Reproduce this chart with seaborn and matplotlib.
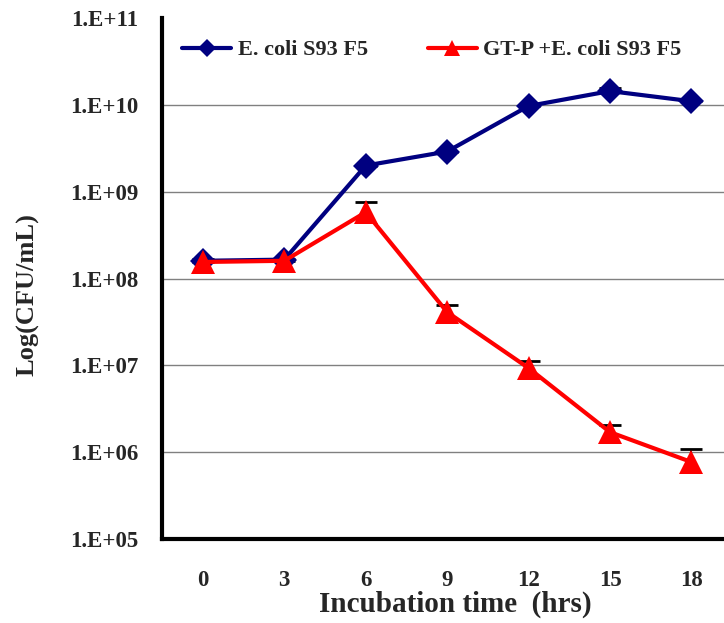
import matplotlib
matplotlib.use("Agg")
import matplotlib.pyplot as plt
import seaborn as sns
import numpy as np
import pandas as pd
from matplotlib.lines import Line2D

times = ["0", "3", "6", "9", "12", "15", "18"]
ecoli = [1.6e8, 1.65e8, 2.0e9, 2.9e9, 9.7e9, 1.44e10, 1.1e10]
ecoli_upper = [1.7e8, 1.7e8, 2.0e9, 2.9e9, 9.7e9, 1.55e10, 1.1e10]
gtp = [1.55e8, 1.6e8, 5.8e8, 4.1e7, 9.3e6, 1.7e6, 7.7e5]
gtp_upper = [1.55e8, 1.6e8, 7.6e8, 4.9e7, 1.12e7, 2.04e6, 1.1e6]
series_names = ["E. coli S93 F5", "GT-P +E. coli S93 F5"]
ytick_vals = [1e5, 1e6, 1e7, 1e8, 1e9, 1e10, 1e11]
ytick_labels = ["1.E+05", "1.E+06", "1.E+07", "1.E+08", "1.E+09", "1.E+10", "1.E+11"]

sns.set_style("white")
plt.rcParams['font.family'] = ['Liberation Serif', 'DejaVu Serif']
plt.rcParams['font.weight'] = 'bold'

df = pd.DataFrame({
    "pos": list(range(len(times))) * 2,
    "value": ecoli + gtp,
    "series": [series_names[0]] * len(times) + [series_names[1]] * len(times),
})

fig = plt.figure(figsize=(7.24, 6.23), dpi=100)
ax = fig.add_axes([0.224, 0.1348, 0.776, 0.8363])

for y in ytick_vals[1:-1]:
    ax.axhline(y, color="#808080", lw=1.0, zorder=0)

colors = {series_names[0]: "#000080", series_names[1]: "#ff0000"}
sns.lineplot(data=df, x="pos", y="value", hue="series", style="series",
             markers={series_names[0]: "D", series_names[1]: "^"},
             dashes=False, palette=colors, lw=3, ax=ax, legend=False,
             markeredgewidth=0, zorder=3)
for line, ms in zip(ax.lines[-2:], [13, 17]):
    line.set_markersize(ms)

pos = np.arange(len(times))
for vals, up in [(ecoli, ecoli_upper), (gtp, gtp_upper)]:
    vals = np.array(vals); up = np.array(up)
    err = np.vstack([np.zeros_like(vals), up - vals])
    eb = ax.errorbar(pos, vals, yerr=err, fmt="none", ecolor="black", elinewidth=1.2,
                     capsize=8, capthick=2, zorder=2)
    caps = eb[1]
    if len(caps) >= 1:
        caps[0].set_visible(False)

ax.set_yscale("log")
ax.set_ylim(1e5, 1e11)
ax.set_yticks(ytick_vals)
ax.set_yticklabels(ytick_labels)
ax.yaxis.set_minor_locator(matplotlib.ticker.NullLocator())
ax.set_xlim(-0.5, 6.4)
ax.set_xticks(pos)
ax.set_xticklabels(times)
ax.set_xticks(np.arange(len(times) - 1) + 0.5, minor=True)
ax.tick_params(axis="x", which="major", length=0, pad=22, labelsize=16.5)
ax.tick_params(axis="x", which="minor", direction="in", length=7, width=2.5, color="black")
ax.tick_params(axis="y", which="major", direction="in", length=7, width=2.5, labelsize=16.5, pad=17, color="black")
for lab in ax.get_xticklabels() + ax.get_yticklabels():
    lab.set_fontweight("bold")

for s in ["top", "right"]:
    ax.spines[s].set_visible(False)
for s in ["left", "bottom"]:
    ax.spines[s].set_linewidth(3)
    ax.spines[s].set_color("black")

ax.set_xlabel("Incubation time  (hrs)", fontsize=21, fontweight="bold")
ax.set_ylabel("Log(CFU/mL)", fontsize=19, fontweight="bold")
ax.xaxis.set_label_coords((455 - 162) / 562, -(604 - 539) / 521, transform=ax.transAxes)
ax.yaxis.set_label_coords(-(162 - 28) / 562, (539 - 295) / 521, transform=ax.transAxes)
ax.xaxis.label.set_verticalalignment("center")
ax.yaxis.label.set_verticalalignment("center")

handles = [Line2D([], [], color="#000080", lw=3, marker="D", markersize=9, markeredgewidth=0),
           Line2D([], [], color="#ff0000", lw=3, marker="^", markersize=12, markeredgewidth=0)]
ax.legend(handles, series_names, loc="center left", bbox_to_anchor=(0.0, (539 - 50) / 521), ncol=2,
          frameon=False, prop={"family": "Liberation Serif", "weight": "bold", "size": 16},
          handlelength=2.2, handletextpad=0.3, columnspacing=2.7)

fig.savefig("out.png", dpi=100)
